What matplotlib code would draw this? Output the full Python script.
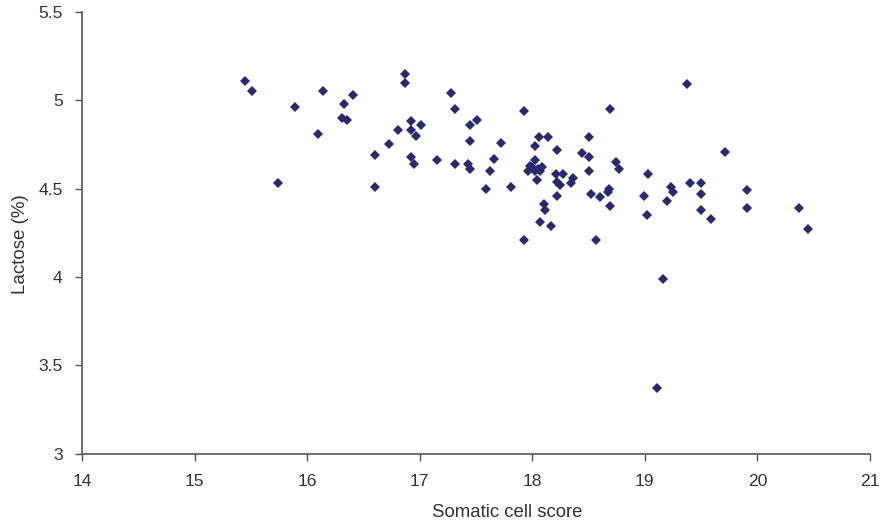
import matplotlib
matplotlib.use("Agg")
import matplotlib.pyplot as plt

somatic_cell_score = [
    15.45, 15.51, 15.89, 15.74, 16.10, 16.14, 16.33, 16.31, 16.35, 16.41,
    16.60, 16.60, 16.73, 16.81, 16.87, 16.87, 16.92, 16.92, 16.97, 17.01,
    16.92, 16.95, 17.15, 17.28, 17.31, 17.31, 17.45, 17.51, 17.45, 17.72,
    17.93, 18.69, 17.43, 17.45, 17.66, 17.62, 17.59, 17.81, 18.06, 18.14,
    18.02, 18.22, 18.02, 17.98, 17.96, 18.00, 18.05, 18.09, 18.07, 18.02,
    18.04, 18.21, 18.27, 18.22, 18.25, 18.36, 18.34, 18.44, 18.50, 18.50,
    18.50, 18.74, 18.77, 18.52, 18.60, 18.68, 18.67, 18.69, 18.22, 18.10,
    18.11, 18.07, 18.17, 17.93, 18.57, 19.16, 19.11, 19.03, 18.99, 19.02,
    19.23, 19.25, 19.20, 19.37, 19.71, 19.40, 19.50, 19.50, 19.50, 19.59,
    19.91, 19.91, 20.37, 20.45,
]
lactose_pct = [
    5.11, 5.05, 4.96, 4.53, 4.81, 5.05, 4.98, 4.90, 4.89, 5.03,
    4.69, 4.51, 4.75, 4.83, 5.15, 5.10, 4.88, 4.83, 4.80, 4.86,
    4.68, 4.64, 4.66, 5.04, 4.95, 4.64, 4.86, 4.89, 4.77, 4.76,
    4.94, 4.95, 4.64, 4.61, 4.67, 4.60, 4.50, 4.51, 4.79, 4.79,
    4.74, 4.72, 4.66, 4.63, 4.60, 4.62, 4.61, 4.62, 4.60, 4.60,
    4.55, 4.58, 4.58, 4.54, 4.52, 4.56, 4.53, 4.70, 4.68, 4.79,
    4.60, 4.65, 4.61, 4.47, 4.45, 4.50, 4.48, 4.40, 4.46, 4.41,
    4.38, 4.31, 4.29, 4.21, 4.21, 3.99, 3.37, 4.58, 4.46, 4.35,
    4.51, 4.48, 4.43, 5.09, 4.71, 4.53, 4.53, 4.47, 4.38, 4.33,
    4.49, 4.39, 4.39, 4.27,
]
x_ticks = [14, 15, 16, 17, 18, 19, 20, 21]
y_ticks = [3, 3.5, 4, 4.5, 5, 5.5]
y_tick_labels = ["3", "3.5", "4", "4.5", "5", "5.5"]

plt.rcParams['font.family'] = ['Liberation Sans', 'DejaVu Sans']

W, H = 881, 524
x0, x1, y_top, y_bot = 82, 870, 12, 453.5
fig = plt.figure(figsize=(W / 100, H / 100), dpi=100)
ax = fig.add_axes([x0 / W, 1 - y_bot / H, (x1 - x0) / W, (y_bot - y_top) / H])

ax.plot(somatic_cell_score, lactose_pct, linestyle='none', marker='D',
        markersize=5.3, color='#262A6E', markeredgewidth=0)

ax.set_xlim(14, 21)
ax.set_ylim(3, 5.5)
ax.set_xticks(x_ticks)
ax.set_xticklabels([str(t) for t in x_ticks])
ax.set_yticks(y_ticks)
ax.set_yticklabels(y_tick_labels)

for s in ['top', 'right']:
    ax.spines[s].set_visible(False)
for s in ['left', 'bottom']:
    ax.spines[s].set_color('#555555')
    ax.spines[s].set_linewidth(1.2)
ax.tick_params(direction='out', length=5, width=1, color='#555555',
               labelsize=12.6, labelcolor='#333333')
ax.tick_params(axis='x', pad=10)
ax.tick_params(axis='y', pad=9)

ax.set_xlabel('Somatic cell score', fontsize=13.4, color='#333333')
ax.xaxis.set_label_coords((507.5 - x0) / (x1 - x0), (y_bot - 517) / (y_bot - y_top))
ax.xaxis.label.set_verticalalignment('baseline')

ax.set_ylabel('Lactose (%)', fontsize=13.5, color='#333333')
ax.yaxis.set_label_coords((25 - x0) / (x1 - x0), (y_bot - 244.5) / (y_bot - y_top))
ax.yaxis.label.set_verticalalignment('baseline')

fig.savefig('out.png', dpi=100)
